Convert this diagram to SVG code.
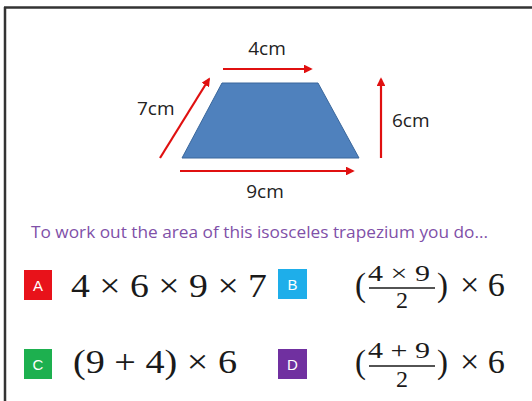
<svg xmlns="http://www.w3.org/2000/svg" width="532" height="401" viewBox="0 0 532 401">
<style>
.lbl{font-family:"Open Sans","Liberation Sans",sans-serif;font-size:19px;fill:#222}
.q{font-family:"Open Sans","Liberation Sans",sans-serif;font-size:17px;fill:#8050A8}
.m{font-family:"Liberation Serif","DejaVu Serif",serif;font-size:33px;fill:#1a1a1a}
.f{font-family:"Liberation Serif","DejaVu Serif",serif;font-size:24px;fill:#1a1a1a}
.bl{font-family:"Liberation Sans",sans-serif;font-size:15px;fill:#fff;text-anchor:middle}
.arr{stroke:#E01010;stroke-width:2.2;fill:none;marker-end:url(#ah)}
</style>
<defs>
<marker id="ah" viewBox="0 0 10 10" refX="8" refY="5" markerWidth="4" markerHeight="4" orient="auto" markerUnits="strokeWidth">
<path d="M0,0 L10,5 L0,10 z" fill="#E01010"/>
</marker>
</defs>
<rect width="532" height="401" fill="#fff"/>
<g id="frame">
<line x1="4" y1="7.5" x2="532" y2="7.5" stroke="#333" stroke-width="2.5"/>
<line x1="5" y1="7" x2="5" y2="401" stroke="#333" stroke-width="2.5"/>
</g>
<g id="trapezium">
<polygon points="222,83 318,83 359,158 182,158" fill="#4F81BD" stroke="#3A679C" stroke-width="1"/>
</g>
<g id="connectors">
<line class="arr" x1="223" y1="69" x2="311" y2="69"/>
<line class="arr" x1="160" y1="158" x2="209" y2="79"/>
<line class="arr" x1="381" y1="158" x2="381" y2="79"/>
<line class="arr" x1="180" y1="171" x2="353" y2="171"/>
</g>
<g id="labels">
<text class="lbl" x="267" y="55" text-anchor="middle">4cm</text>
<text class="lbl" x="137" y="115">7cm</text>
<text class="lbl" x="392" y="127">6cm</text>
<text class="lbl" x="265" y="198" text-anchor="middle">9cm</text>
</g>
<g id="question">
<text class="q" x="31" y="238" textLength="457" lengthAdjust="spacingAndGlyphs">To work out the area of this isosceles trapezium you do...</text>
</g>
<g id="optA">
<rect x="24" y="270" width="28" height="30" fill="#E8121A"/>
<text class="bl" x="38" y="290.5">A</text>
<text class="m" x="71" y="297" textLength="196" lengthAdjust="spacingAndGlyphs">4 × 6 × 9 × 7</text>
</g>
<g id="optB">
<rect x="278" y="269" width="29" height="30" fill="#1EAEEA"/>
<text class="bl" x="292.5" y="289.5">B</text>
<text class="m" x="355" y="296" font-size="34">(</text>
<text class="f" x="368" y="281" textLength="62" lengthAdjust="spacingAndGlyphs">4 × 9</text>
<line x1="369" y1="288" x2="435" y2="288" stroke="#1a1a1a" stroke-width="1.3"/>
<text class="f" x="402" y="308" text-anchor="middle">2</text>
<text class="m" x="437" y="296" font-size="34">)</text>
<text class="m" x="460" y="296" textLength="45" lengthAdjust="spacingAndGlyphs">× 6</text>
</g>
<g id="optC">
<rect x="24" y="349" width="28" height="30" fill="#1DB04F"/>
<text class="bl" x="38" y="369.5">C</text>
<text class="m" x="73" y="373" textLength="164" lengthAdjust="spacingAndGlyphs">(9 + 4) × 6</text>
</g>
<g id="optD">
<rect x="278" y="349" width="29" height="30" fill="#7030A0"/>
<text class="bl" x="292.5" y="369.5">D</text>
<text class="m" x="355" y="373" font-size="34">(</text>
<text class="f" x="368" y="358" textLength="62" lengthAdjust="spacingAndGlyphs">4 + 9</text>
<line x1="369" y1="366" x2="435" y2="366" stroke="#1a1a1a" stroke-width="1.3"/>
<text class="f" x="402" y="387" text-anchor="middle">2</text>
<text class="m" x="437" y="373" font-size="34">)</text>
<text class="m" x="460" y="373" textLength="45" lengthAdjust="spacingAndGlyphs">× 6</text>
</g>
</svg>
